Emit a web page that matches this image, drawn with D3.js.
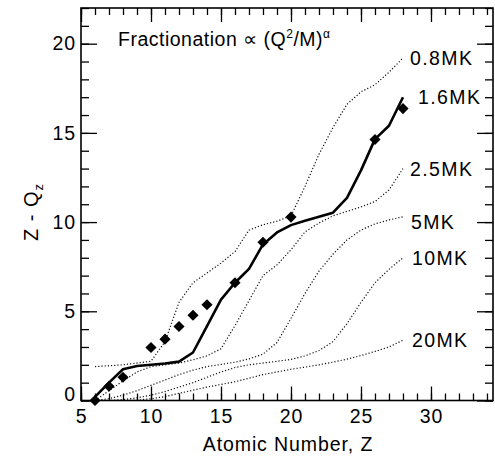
<!DOCTYPE html>
<html>
<head>
<meta charset="utf-8">
<script src="https://cdn.jsdelivr.net/npm/d3@7"></script>
<style>
  html, body { margin: 0; padding: 0; background: #fff; }
  svg { display: block; }
  text { font-family: "Liberation Sans", Arial, Helvetica, sans-serif; fill: #000; }
</style>
</head>
<body>
<svg id="chart" width="495" height="460"></svg>
<script>
// ---------- data ----------
const atomicNumber = [6,7,8,9,10,11,12,13,14,15,16,17,18,19,20,21,22,23,24,25,26,27,28];
const curve08MK = [1.9,1.95,2.0,2.1,2.2,3.3,5.5,6.6,7.15,7.7,8.35,9.55,9.85,10.05,10.35,12.0,13.8,15.3,16.6,17.3,17.7,18.4,19.2];
const curve16MK = [0.2,1.0,1.75,1.93,2.0,2.07,2.18,2.69,4.17,5.65,6.6,7.38,8.75,9.42,9.83,10.07,10.3,10.53,11.36,12.9,14.65,15.4,17.0];
const curve25MK = [0.0,0.55,1.1,1.6,1.9,2.0,2.1,2.28,2.5,2.9,4.2,5.6,7.0,7.6,8.45,9.45,9.95,10.35,10.6,10.85,11.15,11.8,13.0];
const curve5MK  = [0.0,0.1,0.3,0.55,0.85,1.15,1.45,1.7,1.9,2.02,2.15,2.33,2.6,3.25,4.6,6.0,7.25,8.2,9.0,9.55,9.9,10.12,10.3];
const curve10MK = [0.0,0.0,0.05,0.15,0.3,0.5,0.75,1.0,1.3,1.6,1.85,2.0,2.1,2.2,2.3,2.5,2.8,3.3,4.3,5.5,6.6,7.35,8.0];
const curve20MK = [0.0,0.0,0.0,0.02,0.1,0.22,0.4,0.58,0.75,0.9,1.05,1.25,1.45,1.6,1.75,1.87,2.0,2.15,2.32,2.52,2.75,3.0,3.38];
const curveLabels = ["0.8MK","1.6MK","2.5MK","5MK","10MK","20MK"];

const obsZ     = [6,7,8,10,11,12,13,14,16,18,20,26,28];
const obsValue = [0,0.8,1.3,2.97,3.44,4.15,4.78,5.37,6.6,8.87,10.28,14.63,16.36];

const xTickLabels = [5,10,15,20,25,30];
const yTickLabels = [0,5,10,15,20];

// ---------- layout ----------
const svg = d3.select("#chart");
const L = 81, R = 493, T = 8, B = 400.5;
const x = d3.scaleLinear().domain([5, 34.43]).range([L, R]);
const y = d3.scaleLinear().domain([0, 22]).range([B, T]);
const FS = 19.5, LS = 0.9;

svg.append("rect").attr("width", 495).attr("height", 460).attr("fill", "#fff");

const series = [curve08MK, curve16MK, curve25MK, curve5MK, curve10MK, curve20MK];
const line = d3.line().x((d,i) => x(atomicNumber[i])).y(d => y(d));

// dotted model curves
series.forEach((s, k) => {
  if (k === 1) return;
  svg.append("path").datum(s).attr("d", line)
    .attr("fill", "none").attr("stroke", "#111")
    .attr("stroke-width", 1.2).attr("stroke-dasharray", "1.2,2");
});
// solid 1.6MK curve
svg.append("path").datum(curve16MK).attr("d", line)
  .attr("fill", "none").attr("stroke", "#000")
  .attr("stroke-width", 2.6).attr("stroke-linejoin", "round");

// observed diamonds
svg.selectAll(".obs").data(obsZ).enter().append("path")
  .attr("class", "obs")
  .attr("d", d3.symbol(d3.symbolSquare, 62)())
  .attr("transform", (d,i) => `translate(${x(d)},${y(obsValue[i])}) rotate(45)`)
  .attr("fill", "#000");

// curve labels
const labelDx = [7, 15, 7, 8, 9, 9];
const labelDy = [0, 0, 0, 5, 0, 0];
series.forEach((s, k) => {
  svg.append("text")
    .attr("x", x(atomicNumber[atomicNumber.length-1]) + labelDx[k])
    .attr("y", y(s[s.length-1]) + labelDy[k])
    .attr("dy", "0.36em")
    .attr("font-size", FS).attr("letter-spacing", 1.4)
    .text(curveLabels[k]);
});

// ---------- axes ----------
function styleAxis(g) {
  g.select(".domain").remove();
  g.selectAll("line").attr("stroke", "#000").attr("stroke-width", 1.3);
  g.selectAll("text").attr("font-size", FS).attr("letter-spacing", LS)
    .attr("font-family", "Liberation Sans, Arial, sans-serif").attr("fill", "#000");
}
const xMinor = d3.range(5, 35, 1);
const yMinor = d3.range(0, 23, 1);

// bottom
svg.append("g").attr("transform", `translate(0,${B})`)
  .call(d3.axisBottom(x).tickValues(xMinor).tickSizeInner(-7).tickSizeOuter(0).tickFormat(""))
  .call(styleAxis);
svg.append("g").attr("transform", `translate(0,${B})`)
  .call(d3.axisBottom(x).tickValues(xTickLabels).tickSizeInner(-14).tickSizeOuter(0).tickPadding(9).tickFormat(d3.format("d")))
  .call(styleAxis);
// top
svg.append("g").attr("transform", `translate(0,${T})`)
  .call(d3.axisTop(x).tickValues(xMinor).tickSizeInner(-7).tickSizeOuter(0).tickFormat(""))
  .call(styleAxis);
svg.append("g").attr("transform", `translate(0,${T})`)
  .call(d3.axisTop(x).tickValues(xTickLabels).tickSizeInner(-14).tickSizeOuter(0).tickFormat(""))
  .call(styleAxis);
// left
svg.append("g").attr("transform", `translate(${L},0)`)
  .call(d3.axisLeft(y).tickValues(yMinor).tickSizeInner(-8).tickSizeOuter(0).tickFormat(""))
  .call(styleAxis);
const yl = svg.append("g").attr("transform", `translate(${L},0)`)
  .call(d3.axisLeft(y).tickValues(yTickLabels).tickSizeInner(-16).tickSizeOuter(0).tickPadding(5).tickFormat(d3.format("d")))
  .call(styleAxis);
yl.selectAll(".tick").filter(d => d === 0).select("text").attr("transform", "translate(0,-6)");
// right
svg.append("g").attr("transform", `translate(${R},0)`)
  .call(d3.axisRight(y).tickValues(yMinor).tickSizeInner(-8).tickSizeOuter(0).tickFormat(""))
  .call(styleAxis);
svg.append("g").attr("transform", `translate(${R},0)`)
  .call(d3.axisRight(y).tickValues(yTickLabels).tickSizeInner(-16).tickSizeOuter(0).tickFormat(""))
  .call(styleAxis);

// frame
svg.append("rect").attr("x", L).attr("y", T).attr("width", R - L).attr("height", B - T)
  .attr("fill", "none").attr("stroke", "#000").attr("stroke-width", 1.6);

// ---------- titles ----------
const title = svg.append("text").attr("x", 118).attr("y", 46)
  .attr("font-size", FS).attr("letter-spacing", 0.5);
title.append("tspan").text("Fractionation \u221D (Q");
title.append("tspan").attr("font-size", 12).attr("dy", -8).text("2");
title.append("tspan").attr("dy", 8).text("/M)");
title.append("tspan").attr("font-size", 12).attr("dy", -8).text("\u03B1");

svg.append("text").attr("x", (L + R) / 2 + 1).attr("y", 451)
  .attr("text-anchor", "middle").attr("font-size", FS).attr("letter-spacing", LS)
  .text("Atomic Number, Z");

const ylab = svg.append("text").attr("transform", "translate(38,212) rotate(-90)")
  .attr("text-anchor", "middle").attr("font-size", 20).attr("letter-spacing", 1);
ylab.append("tspan").text("Z - Q");
ylab.append("tspan").attr("font-size", 13).attr("dy", 5).text("z");
</script>
</body>
</html>
